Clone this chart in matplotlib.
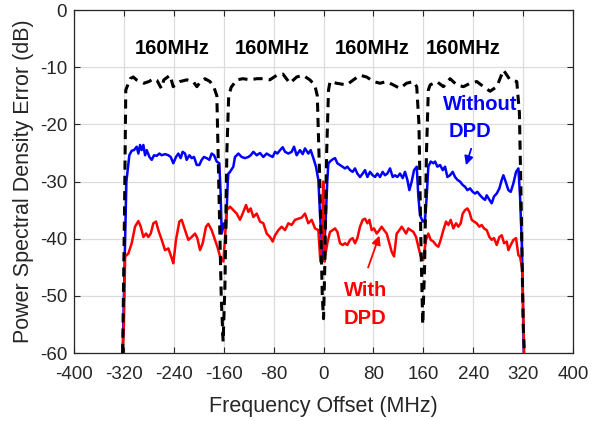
import matplotlib
matplotlib.use("Agg")
import matplotlib.pyplot as plt

plt.rcParams['font.family'] = ['Liberation Sans', 'DejaVu Sans']
plt.rcParams['axes.unicode_minus'] = False

# Black dashed: reference signal spectrum
ref_x = [-322, -319, -317, -310, -305, -300, -294, -288, -280, -272, -267, -260, -256,
         -246, -241, -230, -219, -209, -203, -199, -190, -182, -176, -171, -168, -164,
         -161, -158, -155, -152, -148, -139, -129, -118, -107, -97, -86, -75, -65, -54,
         -43, -33, -22, -14, -10, -6, -2, 0, 2, 5, 8, 10.4, 21, 37, 48, 58.5, 69, 80,
         90.6, 101, 112, 122.6, 133, 144, 149.4, 153, 156, 159, 162, 165, 168, 170.8,
         181.5, 192.2, 202.9, 213.6, 224.3, 235, 245.7, 256.4, 267, 277.7, 288.4, 299,
         309.8, 314, 317, 320, 322]
ref_y = [-60, -35, -14, -12.0, -11.7, -12.2, -12.5, -12.8, -12.5, -12.0, -12.3, -13.7, -12.2,
         -11.4, -13.4, -12.5, -12.2, -12.5, -13.4, -12.8, -12.0, -12.5, -13.4, -15, -30, -50,
         -58, -48, -25, -15, -13.5, -12.2, -12.0, -12.2, -12.0, -12.0, -12.2, -11.4, -11.2, -12.8,
         -11.7, -11.4, -12.2, -13.1, -15, -30, -50, -54, -45, -25, -14, -12.5, -12.8, -13.1, -12.2,
         -11.4, -11.7, -12.5, -12.8, -12.5, -13.1, -13.7, -12.8, -12.5, -13.4, -20, -40, -55,
         -45, -25, -14, -13.1, -12.5, -13.4, -12.0, -13.1, -13.4, -12.8, -12.5, -13.4, -14.2,
         -13.4, -10.5, -12.2, -12.5, -18, -35, -55, -60]

# Blue: without DPD
wo_x = [-322, -319, -316, -311.3, -307.5, -303.8, -299.5, -296.8, -294.1, -291.5, -288.8,
        -286.1, -283.4, -279.1, -275.4, -271.7, -267.4, -263.1, -259.4, -254.1, -248.7, -245,
        -240.8, -236.5, -232.7, -229, -225.8, -222, -219.4, -215.1, -211.3, -207.6, -203.3,
        -199.1, -195.3, -191.6, -187.3, -183, -179.3, -175.5, -171.2, -167, -165, -163.2,
        -159.5, -156.3, -153.5, -152.5, -149.9, -144.6, -141.9, -136.5, -131.2, -125.8, -120.5,
        -116.8, -112.5, -107.1, -101.8, -96.5, -91.1, -86.8, -81.5, -77.7, -74, -69.7, -65.4,
        -61.7, -56.4, -51.1, -47.3, -43.1, -37.7, -33.4, -29.7, -24.4, -20.6, -16.3, -12.1,
        -8.3, -5, -2, 0, 3, 6, 7.75, 10.4, 14.7, 18.4, 22.2, 26.4, 30.7, 34.5, 38.2, 42.5,
        46.7, 50.5, 54.2, 58.5, 62.8, 66.5, 70.3, 74.5, 78.8, 82.6, 86.3, 90.6, 94.8, 98.6,
        102.3, 106.6, 110.9, 114.6, 118.4, 122.6, 126.9, 130.6, 134.4, 137.6, 141.3, 145.1,
        149.4, 152, 154.7, 159, 162.7, 165.4, 168, 171.8, 176.1, 178.8, 182.5, 186.8, 191.1,
        194.8, 198.6, 202.8, 207.1, 210.8, 214.6, 218.8, 223.1, 226.8, 230.6, 234.9, 239.1,
        242.9, 246.6, 250.9, 255.2, 258.9, 261.6, 265.9, 269.6, 273.3, 277.6, 281.9, 285.7,
        288.3, 291, 296.3, 300.1, 304.4, 308.6, 312.4, 315, 317.7, 321]
wo_y = [-60, -45, -30, -25.4, -24.6, -24.5, -23.9, -25.1, -23.6, -24.5, -23.6,
        -25.4, -24.5, -25.7, -26.2, -25.4, -25.5, -25.1, -25.4, -25.2, -25.4, -25.7,
        -26.8, -25.7, -25.1, -25.9, -24.8, -25.1, -26.2, -25.4, -25.9, -25.7, -27.1,
        -27.1, -26.2, -25.7, -25.9, -26.2, -25.1, -25.4, -26.5, -26.8, -32, -39.1,
        -37.3, -38.2, -30, -28.6, -28.3, -27.4, -25.7, -25.1, -25.7, -25.9, -25.7,
        -25.4, -24.8, -25.4, -25.0, -25.7, -25.1, -25.4, -25.7, -24.8, -25.1, -24.5, -24.0,
        -24.8, -25.1, -24.8, -23.9, -25.4, -24.5, -25.2, -24.2, -25.1, -24.5, -25.9, -27.4,
        -29.7, -37, -42, -43, -38, -30, -26.8, -26.5, -26.1, -25.9, -26.8, -27.1, -27.4, -27.7,
        -27.4, -28.0, -28.3, -27.7, -28.6, -29.2, -28.6, -28.0, -29.2, -28.3, -28.9, -29.2,
        -28.6, -29.2, -28.3, -28.9, -28.6, -27.7, -29.2, -28.9, -29.2, -28.6, -29.4, -28.3,
        -29.7, -31.5, -30.0, -28.0, -27.4, -32.6, -35.9, -37.0, -36.7, -32.6, -27.4, -26.5,
        -26.8, -26.5, -27.4, -27.1, -28.0, -27.4, -29.2, -28.9, -28.3, -29.2, -29.7, -30.0,
        -30.6, -30.9, -31.5, -31.2, -31.8, -32.1, -31.8, -32.4, -32.9, -33.2, -32.4, -33.2,
        -33.8, -32.6, -32.1, -31.2, -29.7, -28.9, -29.7, -31.5, -31.8, -30.3, -28.3, -27.7,
        -32.6, -40.2, -60]

# Red: with DPD
w_x = [-322, -320, -318, -312.9, -307.5, -302.2, -296.8, -293, -288.8, -284.5, -280.8,
       -277, -272.8, -268.5, -264.8, -259.4, -254.1, -248.7, -243.4, -240.8, -236.5,
       -231.1, -227.4, -222, -216.7, -211.3, -206, -202.3, -198, -193.7, -188.4, -184.6,
       -179.3, -173.9, -170.2, -165.9, -160.6, -158, -155.2, -149.9, -144.6, -139.2,
       -133.9, -129.6, -124.2, -120.5, -116.8, -112.5, -107.1, -101.8, -96.5, -91.1,
       -85.8, -81.5, -77.7, -72.4, -67.1, -61.7, -56.4, -51.1, -45.7, -40.4, -35, -29.7,
       -24.4, -19, -13.6, -8.3, -5, -2.5, -0.5, 1.5, 2.4, 6.1, 10.4, 14.7, 18.4, 22.2,
       26.4, 30.7, 34.5, 38.2, 42.5, 46.7, 50.5, 54.2, 58.5, 62.8, 66.5, 70.3, 73.5, 77.2,
       80.9, 85.2, 89.5, 93.2, 97, 101.3, 105.5, 109.3, 113, 117.3, 121.6, 125.3, 129,
       132.3, 136, 139.7, 144, 148.3, 152, 155.8, 160, 164.3, 168, 171.8, 176.1, 180.3,
       184.1, 187.8, 192.1, 196.4, 200.1, 203.9, 208.1, 212.4, 216.2, 219.9, 223.1, 226.8,
       230.6, 233.8, 237.5, 241.3, 245.5, 249.8, 253.6, 257.3, 261.6, 265.9, 269.6, 273.3,
       277.6, 281.9, 285.7, 289.4, 293.7, 296.3, 300.1, 304.4, 308.6, 312.4, 315, 318.8,
       321.6]
w_y = [-60, -55, -43.1, -42.6, -40.8, -37.9, -36.9, -37.9, -39.7, -39.1, -39.7,
       -39.1, -37.3, -37.0, -38.5, -40.2, -42.0, -41.7, -43.4, -44.3, -40.2,
       -37.0, -36.7, -38.5, -40.2, -39.7, -39.1, -39.9, -42.0, -40.8, -37.9, -37.4,
       -38.5, -40.2, -41.4, -43.1, -44.0, -40, -35.0, -34.4, -35.0, -35.6,
       -36.7, -35.6, -34.1, -35.3, -34.7, -36.2, -35.6, -37.0, -37.3, -39.1,
       -39.7, -40.5, -39.4, -38.5, -37.9, -38.5, -37.3, -37.6, -36.7, -36.5, -36.3, -35.6,
       -37.3, -36.7, -38.2, -38.5, -44, -40, -30, -44, -43.1, -40.8, -38.8, -38.5, -38.2, -38.8,
       -40.8, -41.1, -40.8, -41.1, -40.2, -39.9, -40.8, -39.9, -37.9, -36.7, -36.5, -37.3, -36.7, -38.5,
       -38.2, -39.1, -38.5, -37.9, -38.5, -39.1, -40.8, -42.3, -43.1, -39.1, -38.5, -37.9, -38.5,
       -39.1, -38.2, -38.5, -38.8, -39.7, -41.4, -43.1, -43.7, -40.2, -39.1, -40.2, -40.5, -41.1,
       -41.4, -40.2, -38.5, -37.0, -37.6, -36.7, -38.2, -37.3, -37.9, -37.3, -35.6, -35.0,
       -34.7, -35.3, -36.7, -37.0, -37.3, -37.9, -37.6, -38.2, -38.5, -39.7, -40.2, -39.9,
       -41.1, -39.7, -39.4, -40.8, -40.5, -42.0, -41.1, -40.2, -39.9, -42.9, -43.1, -45.5,
       -60]

xticks = [-400, -320, -240, -160, -80, 0, 80, 160, 240, 320, 400]
yticks = [-60, -50, -40, -30, -20, -10, 0]
band_label = "160MHz"
band_centers = [-242, -82, 78, 224]

fig = plt.figure(figsize=(5.92, 4.21), dpi=100)
ax = fig.add_axes([0.125, 0.1615, 0.843, 0.8145])

ax.plot(wo_x, wo_y, color='#0000ff', lw=1.8, zorder=3)
ax.plot(w_x, w_y, color='#ff0000', lw=1.8, zorder=4)
ax.plot(ref_x, ref_y, color='black', lw=2.2, ls=(0, (3, 2.0)), zorder=5)

ax.set_xlim(-400, 400)
ax.set_ylim(-60, 0)
ax.set_xticks(xticks)
ax.set_yticks(yticks)
ax.grid(True, color='#dcdcdc', lw=0.9)
ax.set_axisbelow(True)
ax.tick_params(direction='in', top=True, right=True, labelsize=13.5,
               colors='#262626', length=4, width=0.8)
ax.tick_params(axis='x', pad=9)
ax.tick_params(axis='y', pad=5)
for s in ax.spines.values():
    s.set_color('#262626')
    s.set_linewidth(0.9)

ax.set_xlabel('Frequency Offset (MHz)', fontsize=15.5, color='#262626', labelpad=10)
ax.set_ylabel('Power Spectral Density Error (dB)', fontsize=15.5, color='#262626', labelpad=4)

for c in band_centers:
    ax.text(c, -6.8, band_label, ha='center', va='center', fontsize=14.5,
            fontweight='bold', color='black', zorder=6)

ax.text(251, -16.6, 'Without', ha='center', va='center', fontsize=14.5,
        fontweight='bold', color='#0000ff', zorder=6)
ax.text(235, -21.3, 'DPD', ha='center', va='center', fontsize=14.5,
        fontweight='bold', color='#0000ff', zorder=6)
ax.annotate('', xy=(227, -27.6), xytext=(238, -23.8),
            arrowprops=dict(arrowstyle='-|>', color='#0000ff', lw=1.3, mutation_scale=13),
            zorder=6)

ax.text(68, -49, 'With', ha='center', va='center', fontsize=14.5,
        fontweight='bold', color='#ff0000', zorder=6)
ax.text(67, -54, 'DPD', ha='center', va='center', fontsize=14.5,
        fontweight='bold', color='#ff0000', zorder=6)
ax.annotate('', xy=(91, -39), xytext=(70, -45.5),
            arrowprops=dict(arrowstyle='-|>', color='#ff0000', lw=1.3, mutation_scale=13),
            zorder=6)

fig.savefig('out.png', dpi=100)
